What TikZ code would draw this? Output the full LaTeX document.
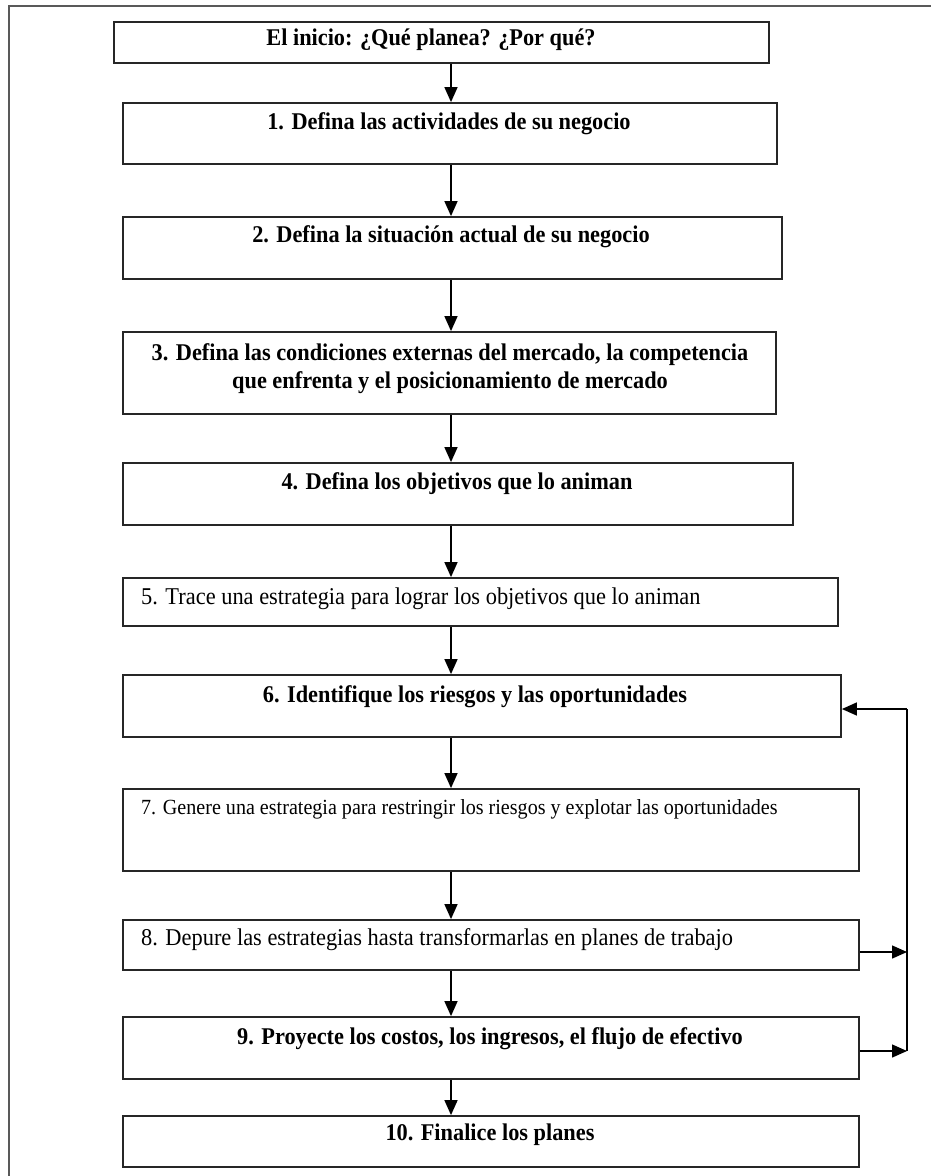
\documentclass[tikz,border=0pt]{standalone}
\usepackage{fontspec}
\setmainfont{Liberation Serif}[FakeStretch=0.93]
\usetikzlibrary{arrows.meta,calc}
\begin{document}
\begin{tikzpicture}[x=1pt,y=-1pt,
  box/.style={draw=black!85, line width=1.8pt, inner sep=0pt, fill=white},
  tb/.style={font=\fontsize{24}{28}\selectfont\bfseries, inner sep=0pt, anchor=mid},
  tr/.style={font=\fontsize{24.1}{28}\selectfont, inner sep=0pt, anchor=mid west},
  ts/.style={font=\fontsize{21.6}{26}\selectfont, inner sep=0pt, anchor=mid west},
  arr/.style={line width=1.5pt, draw=black, -{Triangle[length=15pt,width=13pt]}},
  ln/.style={line width=1.5pt, draw=black},
  frame/.style={line width=2pt, draw=black!65}
]
\useasboundingbox (0,0) rectangle (930,1176);
\draw[frame] (9,1180) -- (9,6) -- (935,6);

% boxes
\node[box, minimum width=655pt, minimum height=41pt] (s)  at (441.5,42.5) {};
\node[box, minimum width=654pt, minimum height=61pt] (b1) at (450,133.5) {};
\node[box, minimum width=659pt, minimum height=62pt] (b2) at (452.5,248) {};
\node[box, minimum width=653pt, minimum height=82pt] (b3) at (449.5,373) {};
\node[box, minimum width=670pt, minimum height=62pt] (b4) at (458,494) {};
\node[box, minimum width=715pt, minimum height=48pt] (b5) at (480.5,602) {};
\node[box, minimum width=718pt, minimum height=62pt] (b6) at (482,706) {};
\node[box, minimum width=736pt, minimum height=82pt] (b7) at (491,830) {};
\node[box, minimum width=736pt, minimum height=50pt] (b8) at (491,945) {};
\node[box, minimum width=736pt, minimum height=62pt] (b9) at (491,1048) {};
\node[box, minimum width=736pt, minimum height=51pt] (b10) at (491,1141.5) {};

% texts
\node[tb] (t0) at (431,43) {El inicio: ¿Qué planea? ¿Por qué?};
\node[tb] (t1) at (449,127) {1. Defina las actividades de su negocio};
\node[tb] (t2) at (451,240) {2. Defina la situación actual de su negocio};
\node[tb, anchor=center, align=center] (t3) at (450,369) {3. Defina las condiciones externas del mercado, la competencia\\que enfrenta y el posicionamiento de mercado};
\node[tb] (t4) at (457,487) {4. Defina los objetivos que lo animan};
\node[tr] (t5) at (141,602) {5. Trace una estrategia para lograr los objetivos que lo animan};
\node[tb] (t6) at (475,700) {6. Identifique los riesgos y las oportunidades};
\node[ts] (t7) at (141,812) {7. Genere una estrategia para restringir los riesgos y explotar las oportunidades};
\node[tr] (t8) at (141,943) {8. Depure las estrategias hasta transformarlas en planes de trabajo};
\node[tb] (t9) at (490,1042) {9. Proyecte los costos, los ingresos, el flujo de efectivo};
\node[tb] (t10) at (490,1138) {10. Finalice los planes};

% main column arrows
\coordinate (ax) at (451,0);
\draw[arr] (s.south -| ax)  -- (b1.north -| ax);
\draw[arr] (b1.south -| ax) -- (b2.north -| ax);
\draw[arr] (b2.south -| ax) -- (b3.north -| ax);
\draw[arr] (b3.south -| ax) -- (b4.north -| ax);
\draw[arr] (b4.south -| ax) -- (b5.north -| ax);
\draw[arr] (b5.south -| ax) -- (b6.north -| ax);
\draw[arr] (b6.south -| ax) -- (b7.north -| ax);
\draw[arr] (b7.south -| ax) -- (b8.north -| ax);
\draw[arr] (b8.south -| ax) -- (b9.north -| ax);
\draw[arr] (b9.south -| ax) -- (b10.north -| ax);

% feedback loop
\coordinate (r6) at (907,709);
\coordinate (r8) at (907,952);
\coordinate (r9) at (907,1051);
\draw[ln] (r6) -- (r9);
\draw[arr] (r6) -- (b6.east |- r6);
\draw[arr] (b8.east |- r8) -- (r8);
\draw[arr] (b9.east |- r9) -- (r9);
\end{tikzpicture}
\end{document}
